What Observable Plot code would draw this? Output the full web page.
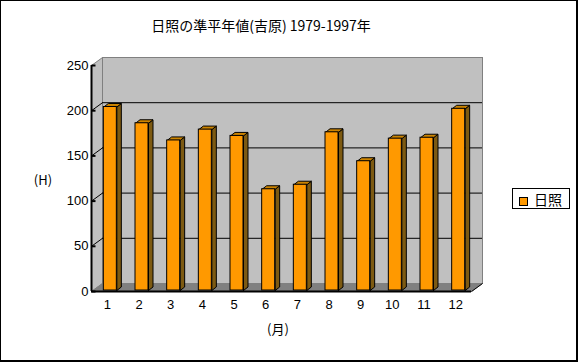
<!DOCTYPE html>
<html>
<head>
<meta charset="utf-8">
<script src="https://cdn.jsdelivr.net/npm/d3@7"></script>
<script src="https://cdn.jsdelivr.net/npm/@observablehq/plot@0.6"></script>
<style>
  html, body { margin: 0; padding: 0; background: #fff; }
  #wrap { position: relative; width: 578px; height: 362px; overflow: hidden; background: #fff;
          font-family: "Noto Sans CJK JP", "Liberation Sans", sans-serif; }
  #border { position: absolute; left: 0; top: 0; width: 578px; height: 362px; box-sizing: border-box;
            border-style: solid; border-color: #000; border-width: 1px 2px 2px 1px; pointer-events: none; }
  .lbl { position: absolute; white-space: nowrap; color: #000; transform: translate(-50%, -50%); line-height: 1; }
  #legend { position: absolute; left: 512px; top: 188px; width: 58px; height: 21px; box-sizing: border-box;
            border: 1px solid #000; background: #fff; }
  #legend .sw { position: absolute; left: 6px; top: 8px; width: 9px; height: 9px; box-sizing: border-box;
                background: #ff9900; border: 1px solid #000; }
  #legend .tx { position: absolute; left: 21px; top: 1px; font-size: 14px; line-height: 18px; }
  svg { position: absolute; left: 0; top: 0; }
</style>
</head>
<body>
<div id="wrap">
  <div id="chart"></div>
  <div class="lbl" id="title" style="left:261px; top:25px; font-size:14px;"></div>
  <div class="lbl" id="ylabel" style="left:43px; top:179px; font-size:13px;"></div>
  <div class="lbl" id="xlabel" style="left:278px; top:328px; font-size:13px;"></div>
  <div id="legend"><div class="sw"></div><div class="tx" id="legendText"></div></div>
  <div id="border"></div>
</div>
<script>
// ---- data ----
const titleText = "日照の準平年値(吉原) 1979-1997年";
const yAxisLabel = "(H)";
const xAxisLabel = "(月)";
const seriesName = "日照";
const months = [1, 2, 3, 4, 5, 6, 7, 8, 9, 10, 11, 12];
const monthLabels = ["1", "2", "3", "4", "5", "6", "7", "8", "9", "10", "11", "12"];
const sunshine = [203, 185, 166, 178, 171, 112, 117, 175, 143, 168, 169, 201];
const yTicks = [0, 50, 100, 150, 200, 250];
const gridValues = [50, 100, 150, 200];

document.getElementById("title").textContent = titleText;
document.getElementById("ylabel").textContent = yAxisLabel;
document.getElementById("xlabel").textContent = xAxisLabel;
document.getElementById("legendText").textContent = seriesName;

// ---- layout ----
const W = 578, H = 362;
const mL = 91, mR = 107, mT = 65, mB = 71;
const xDom = [0.5, 12.5], yDom = [0, 250];
const kx = (W - mL - mR) / (xDom[1] - xDom[0]);   // px per month
const ky = (H - mT - mB) / (yDom[1] - yDom[0]);   // px per hour
const wallDX = 11, wallDY = 8;                    // depth of the 3D box (px)
const DX = wallDX / kx, DY = wallDY / ky;
const hw = 6.5 / kx;                              // half bar width
const bd = 4.5 / kx, bdy = 3.5 / ky;              // bar depth
const barDX = 3, barDY = -1;

const bars = months.map((m, i) => ({m, v: sunshine[i]}));
const sidePts = bars.flatMap(({m, v}) => [
  {m, x: m + hw, y: 0}, {m, x: m + hw + bd, y: bdy}, {m, x: m + hw + bd, y: v + bdy},
  {m, x: m + hw, y: v}, {m, x: m + hw, y: 0}
]);
const topPts = bars.flatMap(({m, v}) => [
  {m, x: m - hw, y: v}, {m, x: m - hw + bd, y: v + bdy}, {m, x: m + hw + bd, y: v + bdy},
  {m, x: m + hw, y: v}, {m, x: m - hw, y: v}
]);
const leftWall = [
  {x: xDom[0], y: yDom[0]}, {x: xDom[0] + DX, y: yDom[0] + DY}, {x: xDom[0] + DX, y: yDom[1] + DY},
  {x: xDom[0], y: yDom[1]}, {x: xDom[0], y: yDom[0]}
];
const floor = [
  {x: xDom[0], y: yDom[0]}, {x: xDom[1], y: yDom[0]}, {x: xDom[1] + DX, y: yDom[0] + DY},
  {x: xDom[0] + DX, y: yDom[0] + DY}, {x: xDom[0], y: yDom[0]}
];

const chart = Plot.plot({
  width: W, height: H,
  marginLeft: mL, marginRight: mR, marginTop: mT, marginBottom: mB,
  style: {background: "transparent", fontSize: "13px", fontFamily: "'Liberation Sans', Arial, sans-serif", color: "#000", overflow: "visible"},
  x: {domain: xDom, ticks: months, tickFormat: d => monthLabels[d - 1], tickSize: 0, tickPadding: 8, label: null},
  y: {domain: yDom, ticks: yTicks, tickSize: 0, tickPadding: 3, label: null},
  marks: [
    Plot.line(leftWall, {x: "x", y: "y", fill: "#c0c0c0", stroke: "#808080", strokeWidth: 1}),
    Plot.frame({fill: "#c0c0c0", stroke: "#808080", dx: wallDX, dy: -wallDY}),
    Plot.line(floor, {x: "x", y: "y", fill: "#808080", stroke: "#808080", strokeWidth: 1}),
    Plot.ruleY(gridValues, {stroke: "#000", strokeWidth: 1, dx: wallDX, dy: -wallDY}),
    Plot.link(gridValues, {x1: xDom[0], y1: d => d, x2: xDom[0] + DX, y2: d => d + DY, stroke: "#000"}),
    Plot.link(yTicks, {x1: xDom[0], y1: d => d, x2: xDom[0] + 4 / kx, y2: d => d, stroke: "#000", strokeWidth: 2}),
    Plot.link([0], {x1: xDom[1], y1: yDom[0], x2: xDom[1] + DX, y2: yDom[0] + DY, stroke: "#000"}),
    Plot.line(sidePts, {x: "x", y: "y", z: "m", fill: "#7d5a12", stroke: "#000", strokeWidth: 1, dx: barDX, dy: barDY}),
    Plot.line(topPts, {x: "x", y: "y", z: "m", fill: "#cc8400", stroke: "#000", strokeWidth: 1, dx: barDX, dy: barDY}),
    Plot.rect(bars, {x1: d => d.m - hw, x2: d => d.m + hw, y1: 0, y2: "v", fill: "#ff9900", stroke: "#000", strokeWidth: 1, dx: barDX, dy: barDY}),
    Plot.ruleX([xDom[0]], {stroke: "#000", strokeWidth: 2}),
    Plot.ruleY([0], {stroke: "#000", strokeWidth: 2})
  ]
});
document.getElementById("chart").appendChild(chart);
</script>
</body>
</html>
